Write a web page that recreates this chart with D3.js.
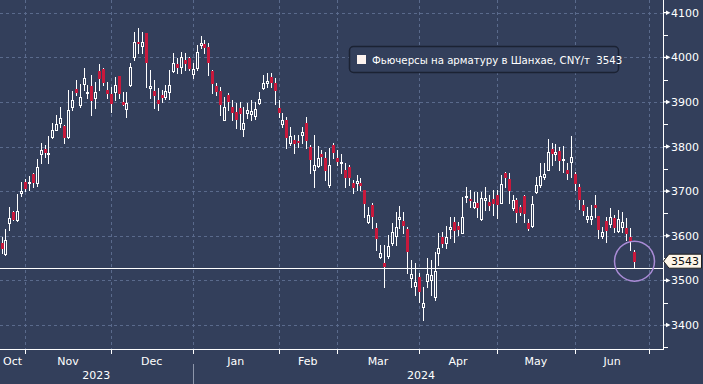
<!DOCTYPE html>
<html>
<head>
<meta charset="utf-8">
<script src="https://cdn.jsdelivr.net/npm/d3@7"></script>
<style>
  body { margin: 0; background: #333f5b; }
  svg { display: block; font-family: "DejaVu Sans", sans-serif; }
</style>
</head>
<body>
<svg id="chart" width="703" height="384"></svg>
<script>
// daily SHFE rebar futures, trading-day index 0 = 24 Oct 2023
const opens = [3584,3559,3629,3653,3635,3696,3720,3719,3738,3718,3783,3794,3784,3821,3837,3853,3846,3821,3889,3929,
  3893,3940,3921,3936,3909,3969,3974,3927,3918,3922,3958,3900,3884,3938,4001,4034,4025,4054,3931,3925,
  3904,3916,3911,3922,3969,3985,3978,3994,3998,3963,3976,4028,4030,4023,3969,3936,3925,3860,3916,3889,
  3877,3886,3839,3875,3872,3868,3898,3931,3942,3956,3942,3886,3850,3860,3808,3815,3812,3826,3853,3799,
  3747,3756,3783,3774,3714,3803,3774,3763,3747,3754,3718,3718,3718,3702,3631,3669,3617,3552,3539,3555,
  3584,3599,3638,3633,3615,3505,3487,3507,3440,3499,3501,3463,3561,3597,3584,3615,3631,3622,3606,3687,
  3682,3664,3673,3638,3680,3676,3682,3691,3673,3741,3727,3662,3680,3664,3689,3629,3622,3698,3714,3732,
  3747,3794,3783,3790,3771,3747,3765,3738,3709,3669,3637,3637,3669,3644,3599,3633,3626,3640,3611,3620,
  3617,3597,3563];
const highs = [3597,3615,3664,3656,3694,3720,3727,3734,3741,3772,3808,3803,3824,3853,3871,3889,3848,3927,3925,3949,
  3940,3976,3938,3960,3945,3985,3975,3945,3933,3956,3959,3922,3922,3987,4057,4066,4057,4055,3972,3949,
  3931,3927,3938,3972,4010,3998,4012,4010,4001,3987,4028,4048,4038,4032,3972,3942,3933,3911,3920,3904,
  3898,3900,3889,3898,3904,3900,3922,3960,3965,3965,3954,3904,3875,3866,3844,3826,3826,3844,3866,3803,
  3826,3801,3792,3788,3797,3808,3792,3783,3763,3759,3725,3736,3730,3703,3664,3673,3629,3579,3579,3602,
  3629,3653,3667,3653,3619,3545,3539,3516,3485,3550,3545,3563,3606,3608,3622,3642,3642,3631,3687,3709,
  3702,3698,3698,3698,3709,3691,3702,3702,3736,3743,3741,3691,3685,3669,3691,3638,3689,3732,3763,3763,
  3817,3808,3806,3799,3801,3763,3824,3743,3716,3680,3664,3669,3691,3645,3619,3642,3662,3646,3658,3653,
  3640,3617,3568];
const lows = [3561,3558,3613,3635,3634,3689,3700,3702,3709,3711,3763,3777,3763,3820,3836,3844,3808,3820,3882,3916,
  3889,3927,3909,3871,3886,3927,3938,3909,3877,3904,3909,3893,3866,3936,3994,4010,4010,3933,3909,3886,
  3882,3900,3907,3907,3967,3965,3965,3972,3972,3954,3972,4021,4010,3960,3920,3916,3871,3859,3882,3860,
  3842,3839,3824,3864,3860,3862,3895,3929,3933,3933,3895,3866,3844,3797,3803,3786,3799,3808,3797,3741,
  3709,3754,3759,3725,3709,3774,3759,3741,3709,3714,3696,3703,3703,3642,3629,3617,3568,3550,3485,3550,
  3579,3579,3617,3606,3516,3485,3467,3451,3411,3485,3467,3456,3534,3575,3572,3595,3586,3602,3606,3676,
  3664,3662,3642,3635,3658,3658,3646,3640,3673,3709,3673,3658,3631,3646,3631,3613,3620,3696,3709,3727,
  3747,3759,3770,3747,3743,3727,3732,3702,3660,3646,3631,3626,3642,3595,3595,3586,3620,3608,3608,3608,
  3590,3568,3528];
const closes = [3572,3590,3640,3638,3655,3700,3707,3721,3720,3754,3792,3788,3786,3837,3850,3864,3821,3882,3904,3922,
  3911,3954,3923,3904,3922,3954,3945,3920,3898,3938,3920,3895,3898,3978,4034,4032,4034,3990,3936,3916,
  3898,3911,3925,3938,3987,3978,4001,3987,3976,3974,4012,4032,4023,3990,3942,3925,3895,3889,3902,3877,
  3862,3875,3853,3882,3880,3884,3907,3942,3947,3945,3927,3877,3860,3821,3824,3808,3810,3833,3815,3772,
  3759,3774,3779,3747,3759,3788,3768,3765,3732,3732,3709,3723,3714,3673,3646,3644,3595,3561,3532,3577,
  3608,3620,3642,3624,3566,3514,3496,3476,3449,3514,3512,3521,3572,3584,3597,3620,3613,3615,3642,3689,
  3680,3676,3664,3685,3685,3669,3673,3671,3716,3732,3702,3680,3653,3653,3651,3617,3671,3714,3734,3738,
  3788,3785,3788,3770,3773,3741,3777,3718,3682,3658,3644,3644,3664,3615,3608,3613,3642,3620,3638,3631,
  3606,3588,3543];

const monthLabels = ['Oct', 'Nov', 'Dec', 'Jan', 'Feb', 'Mar', 'Apr', 'May', 'Jun'];
const monthStarts = [-11, 6, 28, 49, 71, 86, 107, 127, 147, 166]; // first session of each month, last = 1 Jul
const yearLabels = ['2023', '2024'];
const yearStarts = [-11, 49, 166];
const yTicks = [3400, 3500, 3600, 3700, 3800, 3900, 4000, 4100];
const yMinor = [3350, 3450, 3550, 3650, 3750, 3850, 3950, 4050];
const lastPrice = 3543;
const priceLine = 3528;
const legendText = 'Фьючерсы на арматуру в Шанхае, CNY/т  3543';

const bg = '#333f5b', grid = '#5a6a8c', red = '#c8193c';
const plotRight = 663, plotBottom = 349;

const svg = d3.select('#chart');
svg.append('rect').attr('width', 703).attr('height', 384).attr('fill', bg);

const x = d3.scaleLinear().domain([6, 147]).range([25, 575]);
const y = d3.scaleLinear().domain([3400, 4100]).range([325, 12.7]);
const px = v => Math.round(v) + 0.5;

// grid
svg.append('g').selectAll('line').data(yTicks).enter().append('line')
  .attr('x1', 0).attr('x2', plotRight)
  .attr('y1', d => px(y(d))).attr('y2', d => px(y(d)))
  .attr('stroke', grid).attr('stroke-dasharray', '3,3');
svg.append('g').selectAll('line').data(monthStarts.slice(1)).enter().append('line')
  .attr('x1', d => px(x(d))).attr('x2', d => px(x(d)))
  .attr('y1', 0).attr('y2', plotBottom)
  .attr('stroke', grid).attr('stroke-dasharray', '3,3');

// last price line
svg.append('line').attr('x1', 0).attr('x2', plotRight)
  .attr('y1', px(y(priceLine))).attr('y2', px(y(priceLine)))
  .attr('stroke', '#fff').attr('stroke-width', 1);

// candles
const idx = d3.range(closes.length);
const candles = svg.append('g').attr('shape-rendering', 'crispEdges')
  .selectAll('g').data(idx).enter().append('g');
candles.append('line')
  .attr('x1', i => px(x(i))).attr('x2', i => px(x(i)))
  .attr('y1', i => Math.round(y(highs[i]))).attr('y2', i => Math.round(y(lows[i])) + 1)
  .attr('stroke', '#fff');
candles.append('rect')
  .attr('x', i => closes[i] >= opens[i] ? Math.round(x(i)) - 0.5 : Math.round(x(i)) - 1)
  .attr('width', i => closes[i] >= opens[i] ? 2 : 3)
  .attr('y', i => {
    const t = Math.round(y(Math.max(opens[i], closes[i])));
    return closes[i] >= opens[i] ? t + 0.5 : t;
  })
  .attr('height', i => {
    const h = Math.round(y(Math.min(opens[i], closes[i]))) - Math.round(y(Math.max(opens[i], closes[i])));
    return closes[i] >= opens[i] ? Math.max(1, h) : Math.max(1, h + 1);
  })
  .attr('fill', i => closes[i] >= opens[i] ? bg : red)
  .attr('stroke', i => closes[i] >= opens[i] ? '#fff' : 'none');

// y axis
svg.append('line').attr('x1', plotRight + 0.5).attr('x2', plotRight + 0.5)
  .attr('y1', 0).attr('y2', plotBottom + 1).attr('stroke', '#fff');
svg.append('g').selectAll('line').data(yMinor).enter().append('line')
  .attr('x1', plotRight).attr('x2', plotRight + 5)
  .attr('y1', d => px(y(d))).attr('y2', d => px(y(d)))
  .attr('stroke', '#fff');
svg.append('g').selectAll('path').data(yTicks).enter().append('path')
  .attr('d', d => {
    const yy = y(d);
    return `M${plotRight},${yy - 0.6}L${plotRight + 3},${yy - 0.6}L${plotRight + 3},${yy - 2.2}L${plotRight + 7.5},${yy}L${plotRight + 3},${yy + 2.2}L${plotRight + 3},${yy + 0.6}L${plotRight},${yy + 0.6}Z`;
  })
  .attr('fill', '#fff');
svg.append('g').selectAll('text').data(yTicks).enter().append('text')
  .attr('x', plotRight + 8).attr('y', d => y(d) + 4)
  .attr('fill', '#fff').attr('font-size', 11)
  .text(d => d);

// x axis
svg.append('line').attr('x1', 0).attr('x2', plotRight + 1)
  .attr('y1', plotBottom + 0.5).attr('y2', plotBottom + 0.5).attr('stroke', '#fff');
svg.append('g').selectAll('line').data(monthStarts.slice(1)).enter().append('line')
  .attr('x1', d => px(x(d))).attr('x2', d => px(x(d)))
  .attr('y1', plotBottom).attr('y2', plotBottom + 5).attr('stroke', '#fff');
const clampX = v => Math.max(0, Math.min(plotRight, x(v)));
svg.append('g').selectAll('text').data(monthLabels).enter().append('text')
  .attr('x', (d, k) => (clampX(monthStarts[k]) + clampX(monthStarts[k + 1])) / 2)
  .attr('y', 365).attr('text-anchor', 'middle')
  .attr('fill', '#fff').attr('font-size', 11)
  .text(d => d);
svg.append('g').selectAll('text').data(yearLabels).enter().append('text')
  .attr('x', (d, k) => (clampX(yearStarts[k]) + clampX(yearStarts[k + 1])) / 2)
  .attr('y', 379).attr('text-anchor', 'middle')
  .attr('fill', '#fff').attr('font-size', 11)
  .text(d => d);
svg.append('line').attr('x1', px(x(yearStarts[1]))).attr('x2', px(x(yearStarts[1])))
  .attr('y1', 364).attr('y2', 384).attr('stroke', '#8d96aa');

// legend
const lg = svg.append('g');
lg.append('rect').attr('x', 349.5).attr('y', 46.5).attr('width', 269).attr('height', 26).attr('rx', 4)
  .attr('fill', bg).attr('stroke', '#1b2233').attr('stroke-width', 1.5);
lg.append('rect').attr('x', 357).attr('y', 55).attr('width', 9).attr('height', 9).attr('fill', '#fdf3ef');
lg.append('text').attr('x', 372).attr('y', 64).attr('fill', '#fff').attr('font-size', 10.2)
  .attr('xml:space', 'preserve').style('white-space', 'pre')
  .text(legendText);

// highlight circle on the last session
svg.append('circle').attr('cx', x(closes.length - 1) + 1).attr('cy', y(lastPrice))
  .attr('r', 20).attr('fill', 'none').attr('stroke', '#a98bd6').attr('stroke-width', 1.5);

// last price tag
const ly = y(lastPrice);
svg.append('path')
  .attr('d', `M${plotRight + 0.5},${ly}L${plotRight + 6},${ly - 7}L701.5,${ly - 7}L701.5,${ly + 7}L${plotRight + 6},${ly + 7}Z`)
  .attr('fill', '#fdf5e8').attr('stroke', '#222');
svg.append('text').attr('x', plotRight + 8).attr('y', ly + 4)
  .attr('fill', '#111').attr('font-size', 11).text(lastPrice);
</script>
</body>
</html>
